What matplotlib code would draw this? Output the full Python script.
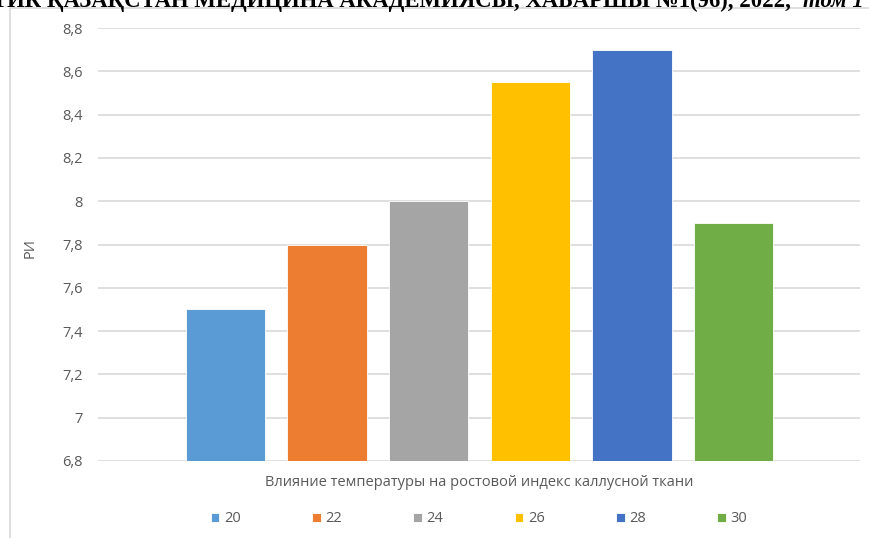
import matplotlib.pyplot as plt
from matplotlib.patches import Rectangle

temps = ["20", "22", "24", "26", "28", "30"]
ri = [7.5, 7.8, 8.0, 8.55, 8.7, 7.9]
colors = ["#5B9BD5", "#ED7D31", "#A5A5A5", "#FFC000", "#4472C4", "#70AD47"]
yticks = [6.8, 7.0, 7.2, 7.4, 7.6, 7.8, 8.0, 8.2, 8.4, 8.6, 8.8]
ytick_labels = ["6,8", "7", "7,2", "7,4", "7,6", "7,8", "8", "8,2", "8,4", "8,6", "8,8"]

plt.rcParams["font.family"] = ["Open Sans", "DejaVu Sans"]

fig = plt.figure(figsize=(8.69, 5.38), dpi=100)
ax = fig.add_axes([98 / 869, 1 - 461 / 538, 762 / 869, 433 / 538])

# chart frame (cut at right and bottom like in the page scan)
fig.patches.append(Rectangle((10 / 869, -0.1), 1.2, 1.1 - 8 / 538,
                             transform=fig.transFigure, fill=False,
                             edgecolor="#D9D9D9", lw=1.2))

bars = []
for i, (t, v, c) in enumerate(zip(temps, ri, colors)):
    b = ax.bar(i, v - 6.8, bottom=6.8, width=0.78, color=c, label=t,
               edgecolor="white", lw=0.6, zorder=3)
    bars.append(b)

ax.set_xlim(-1.255, 6.245)
ax.set_ylim(6.8, 8.8)
ax.set_yticks(yticks)
ax.set_yticklabels(ytick_labels)
ax.set_xticks([])
ax.yaxis.grid(True, color="#D9D9D9", lw=1.2, zorder=0)
for s in ax.spines.values():
    s.set_visible(False)
ax.tick_params(axis="y", length=0, pad=11, labelsize=10.5, labelcolor="#595959")

fig.text(30 / 869, 1 - 248 / 538, "РИ", rotation=90, ha="center", va="center",
         fontsize=10.5, color="#595959")
fig.text(479 / 869, 1 - 483 / 538,
         "Влияние температуры на ростовой индекс каллусной ткани",
         ha="center", va="center", fontsize=10.5, color="#595959")

fig.legend(handles=bars, labels=temps, loc="center", ncol=6,
           bbox_to_anchor=(479 / 869, 1 - 519 / 538), frameon=False,
           fontsize=10.5, labelcolor="#595959", handlelength=0.6,
           handleheight=0.6, handletextpad=0.3, columnspacing=4.9)

# page header, cut off at the top of the scan
fig.text(-8 / 869, 1 - 7 / 538,
         "ТИК ҚАЗАҚСТАН МЕДИЦИНА АКАДЕМИЯСЫ, ХАБАРШЫ №1(96), 2022,",
         ha="left", va="baseline", fontsize=16.4, fontweight="bold",
         family="Liberation Serif", color="black")
fig.text(803 / 869, 1 - 7 / 538, "том 1", ha="left", va="baseline",
         fontsize=16.4, fontweight="bold", style="italic",
         family="Liberation Serif", color="black")

fig.savefig("out.png", dpi=100)
